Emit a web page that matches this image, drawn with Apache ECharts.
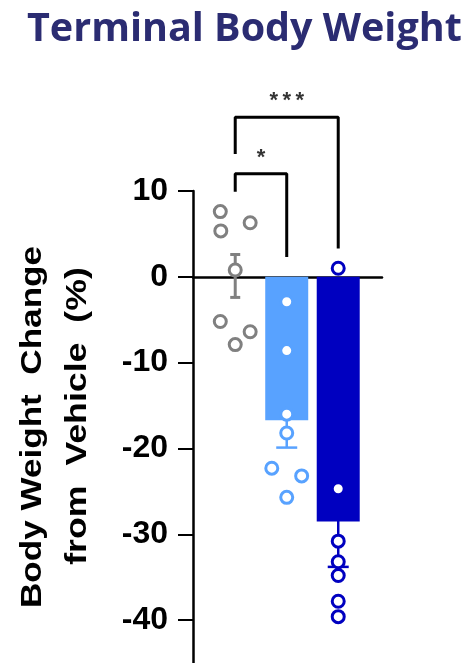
<!DOCTYPE html>
<html>
<head>
<meta charset="utf-8">
<script src="https://cdn.jsdelivr.net/npm/echarts@6/dist/echarts.min.js"></script>
<style>
html,body{margin:0;padding:0;background:#fff;}
#chart{width:465px;height:663px;}
</style>
</head>
<body>
<div id="chart"></div>
<script>
// ---- data ----
const categories = ['Vehicle', 'Low dose', 'High dose'];
const groupX = [1, 2, 3];
const means = [0.1, -16.7, -28.5];
const sems = [2.5, 3.2, 5.3];
const colors = ['#808080', '#58A2FF', '#0000C0'];
const barFills = ['rgba(0,0,0,0)', '#58A2FF', '#0000C0'];
// individual animals: values and horizontal jitter (in group units)
const vehicleValues = [7.6, 6.3, 5.35, 0.8, -5.2, -6.4, -7.9];
const vehicleJitter = [-0.29, 0.29, -0.28, 0, -0.29, 0.29, 0];
const lowValues = [-2.9, -8.6, -16.0, -18.2, -22.3, -23.2, -25.7];
const lowJitter = [0, 0, 0, 0, -0.29, 0.29, 0];
const highValues = [1.0, -24.7, -30.8, -33.2, -34.8, -37.8, -39.6];
const highJitter = [0, 0, 0, 0, 0, 0, 0];
const yTicks = [10, 0, -10, -20, -30, -40];
// significance brackets: [leftX, rightX, topY, leftBottomY, rightBottomY, label, labelY]
const brackets = [
  [1, 3, 18.6, 14.3, 3.3, '*\u2009*\u2009*', 20.5],
  [1, 2, 12.0, 9.9, 2.3, '*', 13.8]
];

const chart = echarts.init(document.getElementById('chart'));

function pts(vals, jit, g) { return vals.map((v, i) => [groupX[g] + jit[i], v]); }

const bracketLine = [];
brackets.forEach(b => {
  bracketLine.push([b[0], b[3]], [b[0], b[2]], [b[1], b[2]], [b[1], b[4]], [null, null]);
});
const starData = brackets.map(b => ({ value: [(b[0] + b[1]) / 2, b[6]], label: { formatter: b[5] } }));

const capW = [10, 21, 21];

const option = {
  animation: false,
  backgroundColor: '#fff',
  title: {
    text: 'Terminal Body Weight',
    left: 22,
    top: 5,
    textStyle: { fontFamily: 'Open Sans', fontWeight: 'bold', fontSize: 39.5, color: '#2B2C72' }
  },
  grid: { left: 193, width: 189, top: 191, height: 473, containLabel: false },
  xAxis: {
    type: 'value', min: 0.18, max: 3.85,
    axisLine: { onZero: true, lineStyle: { color: '#000', width: 2.5 } },
    axisTick: { show: false }, axisLabel: { show: false }, splitLine: { show: false }
  },
  yAxis: {
    type: 'value', min: -45, max: 10,
    axisLine: { show: true, onZero: false, lineStyle: { color: '#000', width: 2.5 } },
    axisTick: { show: true, length: 15, customValues: yTicks, lineStyle: { color: '#000', width: 2 } },
    axisLabel: {
      margin: 25, fontFamily: 'Liberation Sans', fontWeight: 'bold', fontSize: 32, color: '#000',
      customValues: yTicks
    },
    splitLine: { show: false }
  },
  graphic: [
    { type: 'text', x: 33, y: 427, rotation: Math.PI / 2, scaleX: 1.17,
      style: { text: 'Body Weight  Change', font: 'bold 30px "Liberation Sans"', fill: '#000', align: 'center', verticalAlign: 'middle' } },
    { type: 'text', x: 78, y: 416, rotation: Math.PI / 2, scaleX: 1.19,
      style: { text: 'from  Vehicle  (%)', font: 'bold 30px "Liberation Sans"', fill: '#000', align: 'center', verticalAlign: 'middle' } }
  ],
  series: [
    {
      type: 'bar', barWidth: 43, z: 2,
      data: means.map((m, i) => ({ value: [groupX[i], m], itemStyle: { color: barFills[i] } }))
    },
    {
      type: 'custom', z: 1,
      renderItem: function (params, api) {
        const i = params.dataIndex;
        const x = api.value(0), m = api.value(1), s = api.value(2);
        const top = api.coord([x, m + s]);
        const bot = api.coord([x, m - s]);
        const cw = capW[i] / 2;
        const st = { stroke: colors[i], lineWidth: i === 0 ? 3 : 2.5 };
        return {
          type: 'group',
          children: [
            { type: 'line', shape: { x1: top[0], y1: top[1], x2: bot[0], y2: bot[1] }, style: st },
            { type: 'line', shape: { x1: top[0] - cw, y1: top[1], x2: top[0] + cw, y2: top[1] }, style: st },
            { type: 'line', shape: { x1: bot[0] - cw, y1: bot[1], x2: bot[0] + cw, y2: bot[1] }, style: st }
          ]
        };
      },
      data: means.map((m, i) => [groupX[i], m, sems[i]])
    },
    { type: 'scatter', z: 5, symbol: 'circle', symbolSize: 12, clip: false,
      itemStyle: { color: '#fff', borderColor: colors[0], borderWidth: 3, opacity: 1 },
      data: pts(vehicleValues, vehicleJitter, 0) },
    { type: 'scatter', z: 5, symbol: 'circle', symbolSize: 12, clip: false,
      itemStyle: { color: '#fff', borderColor: colors[1], borderWidth: 3, opacity: 1 },
      data: pts(lowValues, lowJitter, 1) },
    { type: 'scatter', z: 5, symbol: 'circle', symbolSize: 12, clip: false,
      itemStyle: { color: '#fff', borderColor: colors[2], borderWidth: 3, opacity: 1 },
      data: pts(highValues, highJitter, 2) },
    { type: 'line', clip: false, symbol: 'none', connectNulls: false, z: 3,
      lineStyle: { color: '#000', width: 3 },
      data: bracketLine },
    { type: 'scatter', clip: false, symbolSize: 0, z: 6,
      label: { show: true, position: 'inside', fontFamily: 'Liberation Sans', fontWeight: 'bold', fontSize: 22, color: '#000' },
      data: starData }
  ]
};
chart.setOption(option);
</script>
</body>
</html>
